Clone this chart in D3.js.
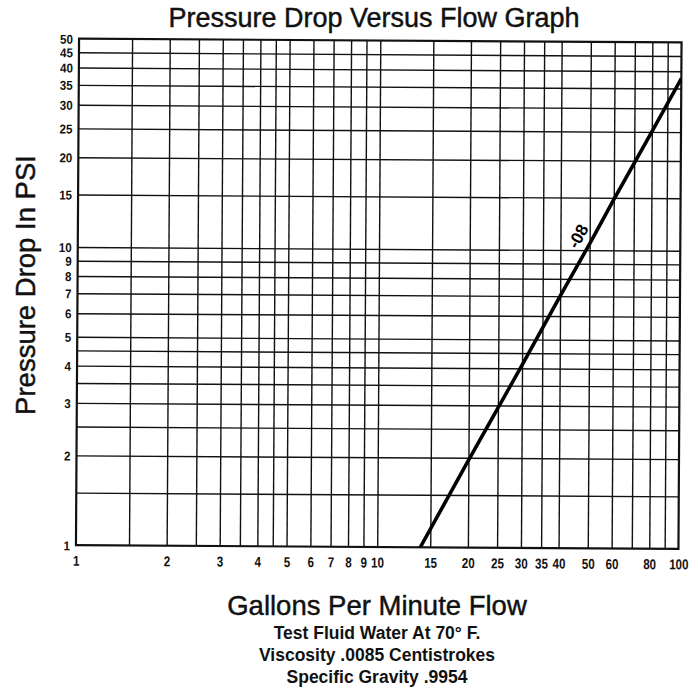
<!DOCTYPE html>
<html>
<head>
<meta charset="utf-8">
<script src="https://cdn.jsdelivr.net/npm/d3@7"></script>
<style>
  html, body { margin: 0; padding: 0; background: #fff; }
  svg { display: block; }
  .tick-label { font-family: "Liberation Sans", Arial, Helvetica, sans-serif; font-weight: bold; font-size: 14.5px; fill: #111; }
</style>
</head>
<body>
<svg id="chart" width="698" height="690"></svg>
<script>
// Flow (GPM) vs pressure drop (PSI) for the -08 size, log-log
const gpm = [13.9, 20, 30, 40, 50, 60, 80, 100];
const psi = [1, 1.96, 4.1, 7.0, 10.5, 14.8, 25, 37.8];
const seriesLabel = "-08";

// Grid lines and labelled ticks
const xGrid = [1.5, 2, 2.5, 3, 3.5, 4, 4.5, 5, 6, 7, 8, 9, 10, 15, 20, 25, 30, 35, 40, 50, 60, 70, 80, 90];
const yGrid = [1.5, 2, 2.5, 3, 3.5, 4, 4.5, 5, 6, 7, 8, 9, 10, 15, 20, 25, 30, 35, 40, 45];
const xTicks = [1, 2, 3, 4, 5, 6, 7, 8, 9, 10, 15, 20, 25, 30, 35, 40, 50, 60, 80, 100];
const yTicks = [1, 2, 3, 4, 5, 6, 7, 8, 9, 10, 15, 20, 25, 30, 35, 40, 45, 50];

const titleText = "Pressure Drop Versus Flow Graph";
const xTitle = "Gallons Per Minute Flow";
const yTitle = "Pressure Drop In PSI";
const notes = ["Test Fluid Water At 70\u00B0 F.", "Viscosity .0085 Centistrokes", "Specific Gravity .9954"];

const svg = d3.select("#chart");
const plotLeft = 77.5, plotRight = 680, plotTop = 40.5, plotBottom = 547;

const x = d3.scaleLog().domain([1, 100]).range([plotLeft, plotRight]);
const y = d3.scaleLog().domain([1, 50]).range([plotBottom, plotTop]);

const sans = "'Liberation Sans', Arial, Helvetica, sans-serif";
const ink = "#111";

// Title
svg.append("text")
  .attr("x", 374).attr("y", 27)
  .attr("text-anchor", "middle")
  .style("font-family", sans).style("font-size", "27px")
  .style("fill", ink).style("stroke", ink).style("stroke-width", 0.45)
  .text(titleText);

// Plot body, slightly turned as on the printed sheet
const g = svg.append("g")
  .attr("transform", `rotate(0.35 ${(plotLeft + plotRight) / 2} ${(plotTop + plotBottom) / 2})`);

// Vertical grid
g.append("g")
  .attr("transform", `translate(0,${plotBottom})`)
  .call(d3.axisBottom(x).tickValues(xGrid).tickSize(-(plotBottom - plotTop)).tickFormat(""))
  .call(a => a.select(".domain").remove())
  .call(a => a.selectAll("line").attr("stroke", ink).attr("stroke-width", 1.4));

// Horizontal grid
g.append("g")
  .attr("transform", `translate(${plotLeft},0)`)
  .call(d3.axisLeft(y).tickValues(yGrid).tickSize(-(plotRight - plotLeft)).tickFormat(""))
  .call(a => a.select(".domain").remove())
  .call(a => a.selectAll("line").attr("stroke", ink).attr("stroke-width", 1.4));

// Frame
g.append("rect")
  .attr("x", plotLeft).attr("y", plotTop)
  .attr("width", plotRight - plotLeft).attr("height", plotBottom - plotTop)
  .attr("fill", "none").attr("stroke", ink).attr("stroke-width", 2.2);

// Tick labels, in a condensed cut
const xAxis = g.append("g")
  .attr("transform", `translate(0,${plotBottom})`)
  .call(d3.axisBottom(x).tickValues(xTicks).tickSize(0).tickFormat(d3.format("d")));
xAxis.select(".domain").remove();
xAxis.selectAll("text")
  .attr("class", "tick-label").attr("fill", null)
  .attr("y", 0).attr("dy", null)
  .attr("transform", "translate(0,20.5) scale(0.8,0.98)");

const yAxis = g.append("g")
  .attr("transform", `translate(${plotLeft},0)`)
  .call(d3.axisLeft(y).tickValues(yTicks).tickSize(0).tickFormat(d3.format("d")));
yAxis.select(".domain").remove();
yAxis.selectAll("text")
  .attr("class", "tick-label").attr("fill", null)
  .attr("x", 0).attr("dy", "0.36em")
  .attr("transform", "translate(-6,0) scale(0.8,0.88)");

// Curve
g.append("clipPath").attr("id", "plot-clip")
  .append("rect").attr("x", plotLeft).attr("y", plotTop).attr("width", plotRight - plotLeft).attr("height", plotBottom - plotTop);

const line = d3.line().x((d, i) => x(gpm[i])).y((d, i) => y(psi[i]));
g.append("path")
  .datum(gpm)
  .attr("clip-path", "url(#plot-clip)")
  .attr("d", line)
  .attr("fill", "none").attr("stroke", "#000").attr("stroke-width", 3.6);

// Series label beside the curve, near the 50 GPM point
const angle = Math.atan2(y(psi[7]) - y(psi[0]), x(gpm[7]) - x(gpm[0])) * 180 / Math.PI;
g.append("text")
  .attr("transform", `translate(${x(gpm[4])},${y(psi[4])}) rotate(${angle}) translate(1,-14)`)
  .attr("dy", "0.36em")
  .attr("text-anchor", "middle")
  .style("font-family", sans).style("font-weight", "bold").style("font-size", "17px").style("fill", "#000")
  .text(seriesLabel);

// Axis titles
svg.append("text")
  .attr("transform", "translate(35,285) rotate(-90)")
  .attr("text-anchor", "middle")
  .style("font-family", sans).style("font-size", "27.5px")
  .style("fill", ink).style("stroke", ink).style("stroke-width", 0.45)
  .text(yTitle);

svg.append("text")
  .attr("x", 377).attr("y", 615)
  .attr("text-anchor", "middle")
  .style("font-family", sans).style("font-size", "27.5px")
  .style("fill", ink).style("stroke", ink).style("stroke-width", 0.45)
  .text(xTitle);

svg.selectAll("text.note")
  .data(notes)
  .join("text")
  .attr("class", "note")
  .attr("x", 377)
  .attr("y", (d, i) => 639 + i * 22)
  .attr("text-anchor", "middle")
  .style("font-family", sans).style("font-weight", "bold").style("font-size", "17.5px").style("fill", ink)
  .text(d => d);
</script>
</body>
</html>
